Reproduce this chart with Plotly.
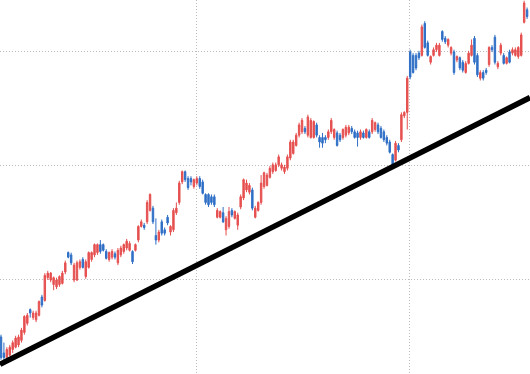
import plotly.graph_objects as go

# Daily OHLC prices (gridlines at 6, 7, 8)
open_ = [
    5.50, 5.36, 5.32, 5.34, 5.39, 5.41, 5.43, 5.47, 5.54, 5.62, 5.74, 5.67, 5.65, 5.69, 5.85, 5.82,
    6.02, 6.00, 5.96, 5.94, 5.96, 5.97, 6.07, 6.24, 6.22, 6.00, 6.00, 6.11, 6.18, 6.03, 6.11, 6.18,
    6.22, 6.24, 6.31, 6.31, 6.25, 6.18, 6.20, 6.23, 6.15, 6.22, 6.25, 6.28, 6.26, 6.25,
    6.26, 6.35, 6.47, 6.48, 6.51, 6.61, 6.63, 6.39, 6.35, 6.51, 6.44, 6.55, 6.42, 6.44, 6.59, 6.68,
    6.86, 6.95, 6.89, 6.89, 6.82, 6.85, 6.89, 6.86, 6.75, 6.75, 6.73, 6.73, 6.55, 6.55, 6.59, 6.44,
    6.47, 6.61, 6.54, 6.48, 6.64, 6.72, 6.79, 6.77, 6.79, 6.55, 6.61, 6.68, 6.82,
    6.83, 6.90, 6.95, 6.96, 7.01, 6.98, 6.95, 6.98, 7.07, 7.11, 7.18, 7.27, 7.30, 7.33, 7.27, 7.25,
    7.25, 7.36, 7.25, 7.25, 7.25, 7.25, 7.30, 7.25, 7.29, 7.27, 7.25, 7.27, 7.29, 7.33, 7.30, 7.29,
    7.25, 7.29, 7.25, 7.30, 7.30, 7.32, 7.36, 7.33, 7.30, 7.25, 7.21, 7.10, 7.05, 7.18,
    7.23, 7.44, 7.47, 8.00, 7.97, 7.97, 7.99, 7.97, 8.25, 8.08, 7.91, 7.97, 8.02, 7.97, 8.18, 8.12,
    8.06, 7.99, 8.00, 7.93, 7.95, 7.91, 7.82, 7.90, 7.97, 8.12, 7.97, 7.77, 7.82, 7.84, 7.89, 8.04,
    8.13, 7.87, 7.99, 7.97, 7.90, 8.00, 7.99, 7.97, 7.96, 7.97, 8.26, 8.37,
]
high = [
    5.52, 5.45, 5.41, 5.43, 5.47, 5.51, 5.52, 5.58, 5.69, 5.71, 5.75, 5.73, 5.73, 5.82, 5.87, 6.06,
    6.08, 6.07, 6.03, 6.02, 6.04, 6.08, 6.17, 6.25, 6.24, 6.15, 6.17, 6.18, 6.20, 6.18, 6.25, 6.25,
    6.32, 6.32, 6.35, 6.32, 6.27, 6.25, 6.27, 6.25, 6.28, 6.30, 6.32, 6.36, 6.34, 6.26,
    6.32, 6.48, 6.53, 6.50, 6.70, 6.76, 6.65, 6.54, 6.44, 6.53, 6.46, 6.57, 6.48, 6.63, 6.68, 6.87,
    6.96, 6.96, 6.91, 6.91, 6.89, 6.91, 6.91, 6.88, 6.76, 6.76, 6.75, 6.75, 6.63, 6.61, 6.64, 6.56,
    6.64, 6.63, 6.61, 6.59, 6.75, 6.89, 6.88, 6.85, 6.81, 6.65, 6.69, 6.92, 6.95,
    6.94, 7.00, 7.03, 7.03, 7.10, 7.03, 7.01, 7.10, 7.23, 7.23, 7.29, 7.38, 7.42, 7.35, 7.45, 7.42,
    7.40, 7.38, 7.27, 7.29, 7.27, 7.32, 7.42, 7.33, 7.31, 7.29, 7.33, 7.36, 7.36, 7.35, 7.32, 7.31,
    7.32, 7.31, 7.33, 7.32, 7.42, 7.39, 7.38, 7.35, 7.32, 7.27, 7.23, 7.11, 7.22, 7.20,
    7.47, 7.48, 7.79, 8.02, 7.99, 7.99, 8.01, 8.24, 8.27, 8.10, 7.97, 8.04, 8.08, 8.08, 8.19, 8.14,
    8.12, 8.05, 8.02, 7.97, 7.96, 7.93, 7.92, 8.01, 8.11, 8.14, 7.99, 7.84, 7.84, 7.86, 8.05, 8.06,
    8.15, 7.92, 8.08, 7.99, 7.96, 8.02, 8.04, 8.04, 8.05, 8.17, 8.45, 8.39,
]
low = [
    5.30, 5.30, 5.30, 5.33, 5.36, 5.40, 5.41, 5.45, 5.52, 5.60, 5.67, 5.65, 5.63, 5.68, 5.76, 5.81,
    6.00, 5.98, 5.91, 5.92, 5.94, 5.96, 6.05, 6.19, 6.13, 5.98, 5.99, 6.09, 6.10, 6.01, 6.10, 6.16,
    6.20, 6.22, 6.23, 6.25, 6.18, 6.16, 6.18, 6.18, 6.13, 6.20, 6.23, 6.26, 6.25, 6.14,
    6.25, 6.33, 6.46, 6.44, 6.49, 6.60, 6.49, 6.31, 6.33, 6.39, 6.39, 6.48, 6.39, 6.42, 6.57, 6.66,
    6.84, 6.86, 6.79, 6.83, 6.80, 6.83, 6.80, 6.75, 6.66, 6.64, 6.66, 6.64, 6.54, 6.54, 6.50, 6.39,
    6.45, 6.55, 6.53, 6.44, 6.62, 6.70, 6.77, 6.75, 6.61, 6.54, 6.60, 6.66, 6.80,
    6.82, 6.89, 6.93, 6.95, 6.99, 6.96, 6.93, 6.96, 7.05, 7.10, 7.17, 7.25, 7.28, 7.28, 7.25, 7.24,
    7.24, 7.25, 7.16, 7.16, 7.20, 7.23, 7.28, 7.23, 7.17, 7.21, 7.23, 7.25, 7.27, 7.28, 7.24, 7.17,
    7.23, 7.24, 7.24, 7.24, 7.28, 7.30, 7.28, 7.24, 7.21, 7.18, 7.11, 6.98, 7.04, 7.12,
    7.21, 7.42, 7.32, 7.76, 7.81, 7.84, 7.93, 7.96, 8.03, 7.96, 7.89, 7.96, 8.00, 7.96, 8.09, 8.07,
    8.04, 7.97, 7.80, 7.91, 7.84, 7.82, 7.81, 7.89, 7.96, 7.89, 7.78, 7.75, 7.75, 7.80, 7.87, 8.00,
    7.89, 7.85, 7.97, 7.89, 7.89, 7.90, 7.97, 7.96, 7.94, 7.96, 8.25, 8.29,
]
close = [
    5.32, 5.32, 5.39, 5.41, 5.45, 5.49, 5.50, 5.56, 5.68, 5.69, 5.71, 5.71, 5.71, 5.81, 5.78, 6.04,
    6.06, 6.06, 6.02, 6.00, 6.03, 6.06, 6.15, 6.20, 6.15, 6.13, 6.15, 6.16, 6.11, 6.16, 6.24, 6.24,
    6.31, 6.31, 6.25, 6.26, 6.19, 6.24, 6.25, 6.20, 6.26, 6.28, 6.31, 6.34, 6.32, 6.16,
    6.31, 6.47, 6.51, 6.46, 6.68, 6.75, 6.51, 6.35, 6.42, 6.41, 6.41, 6.50, 6.47, 6.61, 6.63, 6.85,
    6.95, 6.88, 6.81, 6.86, 6.88, 6.89, 6.82, 6.76, 6.68, 6.66, 6.68, 6.66, 6.61, 6.60, 6.51, 6.54,
    6.60, 6.57, 6.60, 6.57, 6.73, 6.88, 6.85, 6.83, 6.63, 6.63, 6.68, 6.85, 6.94,
    6.92, 6.98, 7.01, 7.01, 7.08, 7.01, 6.99, 7.08, 7.21, 7.21, 7.27, 7.36, 7.40, 7.30, 7.43, 7.40,
    7.39, 7.27, 7.21, 7.20, 7.23, 7.30, 7.40, 7.32, 7.18, 7.23, 7.32, 7.34, 7.34, 7.30, 7.25, 7.25,
    7.30, 7.25, 7.32, 7.25, 7.40, 7.38, 7.30, 7.25, 7.23, 7.20, 7.12, 6.99, 7.20, 7.14,
    7.45, 7.47, 7.77, 7.78, 7.82, 7.86, 7.95, 8.22, 8.04, 7.97, 7.96, 8.02, 8.06, 8.06, 8.11, 8.09,
    8.11, 8.04, 7.82, 7.96, 7.86, 7.84, 7.90, 7.99, 8.06, 7.91, 7.80, 7.82, 7.77, 7.82, 8.04, 8.02,
    7.91, 7.90, 8.06, 7.90, 7.95, 7.91, 8.02, 8.02, 8.04, 8.15, 8.43, 8.31,
]
day = list(range(len(close)))

# Support (trend) line end points
trend_x = [-0.34, 181.0]
trend_y = [5.26, 7.60]

# Axis grid positions
price_ticks = [6, 7, 8]
date_ticks = [67.06, 139.6]

UP = "#e65050"
DOWN = "#2f6fc6"
GRID = "#bcbcbc"

fig = go.Figure()
fig.add_trace(go.Candlestick(
    x=day, open=open_, high=high, low=low, close=close,
    increasing=dict(line=dict(color=UP, width=1), fillcolor=UP),
    decreasing=dict(line=dict(color=DOWN, width=1), fillcolor=DOWN),
    whiskerwidth=0, hoverinfo="skip",
))
fig.add_trace(go.Scatter(
    x=trend_x, y=trend_y, mode="lines",
    line=dict(color="black", width=5.5), hoverinfo="skip",
))

fig.update_layout(
    width=530, height=374,
    margin=dict(l=0, r=0, t=0, b=0),
    paper_bgcolor="white", plot_bgcolor="white",
    showlegend=False,
    xaxis=dict(
        range=[-0.342, 181.0], rangeslider=dict(visible=False),
        tickmode="array", tickvals=date_ticks, showticklabels=False,
        showgrid=True, gridcolor=GRID, gridwidth=1, griddash="1px,2px",
        zeroline=False, showline=False, ticks="",
    ),
    yaxis=dict(
        range=[5.175, 8.456],
        tickmode="array", tickvals=price_ticks, showticklabels=False,
        showgrid=True, gridcolor=GRID, gridwidth=1, griddash="1px,2px",
        zeroline=False, showline=False, ticks="",
    ),
)

fig.write_html("out.html")
